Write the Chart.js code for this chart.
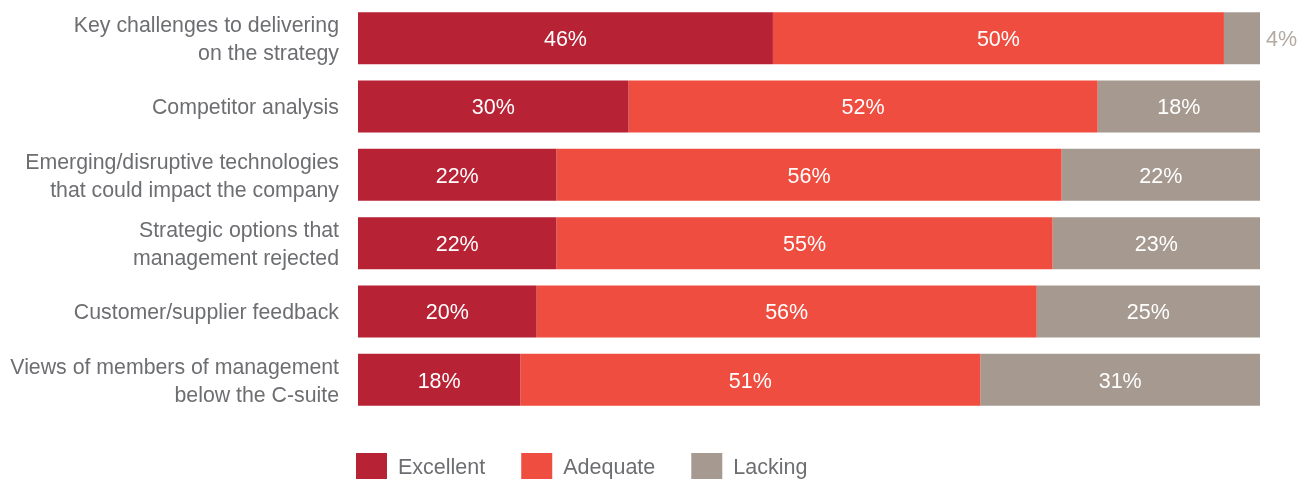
<!DOCTYPE html>
<html>
<head>
<meta charset="utf-8">
<script src="https://cdn.jsdelivr.net/npm/chart.js@4"></script>
<style>
html,body{margin:0;padding:0;background:#fff;overflow:hidden;}
#wrap{width:1300px;height:479px;position:relative;}
</style>
</head>
<body>
<div id="wrap"><canvas id="c" width="1300" height="479"></canvas></div>
<script>
const categories = [
  ["Key challenges to delivering", "on the strategy"],
  "Competitor analysis",
  ["Emerging/disruptive technologies", "that could impact the company"],
  ["Strategic options that", "management rejected"],
  "Customer/supplier feedback",
  ["Views of members of management", "below the C-suite"]
];
const seriesNames = ["Excellent", "Adequate", "Lacking"];
const excellent = [46, 30, 22, 22, 20, 18];
const adequate  = [50, 52, 56, 55, 56, 51];
const lacking   = [4, 18, 22, 23, 25, 31];
const colors = ["#b72235", "#ef4d3f", "#a69a90"];

const FONT = "'Liberation Sans', Arial, Helvetica, sans-serif";

// 100% stacked: each row is shown as a share of its own total
const rowTotals = excellent.map((v, i) => v + adequate[i] + lacking[i]);
const share = arr => arr.map((v, i) => v / rowTotals[i] * 100);
const rawSeries = [excellent, adequate, lacking];

const dataLabels = {
  id: 'dataLabels',
  afterDatasetsDraw(chart) {
    const ctx = chart.ctx;
    ctx.save();
    ctx.font = "21.5px " + FONT;
    ctx.textBaseline = 'middle';
    chart.data.datasets.forEach((ds, di) => {
      const meta = chart.getDatasetMeta(di);
      meta.data.forEach((bar, i) => {
        const v = rawSeries[di][i];
        const w = Math.abs(bar.x - bar.base);
        const txt = v + '%';
        if (w < 45) {
          ctx.fillStyle = '#b3aaa2';
          ctx.textAlign = 'left';
          ctx.fillText(txt, chart.chartArea.right + 6, bar.y + 2);
        } else {
          ctx.fillStyle = '#ffffff';
          ctx.textAlign = 'center';
          ctx.fillText(txt, (bar.x + bar.base) / 2, bar.y + 2);
        }
      });
    });
    ctx.restore();
  }
};

const catLabels = {
  id: 'catLabels',
  afterDraw(chart) {
    const ctx = chart.ctx;
    const ys = chart.scales.y;
    ctx.save();
    ctx.font = "21.3px " + FONT;
    ctx.fillStyle = '#6d6e71';
    ctx.textAlign = 'right';
    ctx.textBaseline = 'middle';
    const lineH = 28;
    chart.data.labels.forEach((lab, i) => {
      const lines = Array.isArray(lab) ? lab : [lab];
      const yc = ys.getPixelForTick(i);
      const y0 = yc - (lines.length - 1) * lineH / 2 + 2;
      lines.forEach((ln, k) => ctx.fillText(ln, 339, y0 + k * lineH));
    });
    ctx.restore();
  }
};

const customLegend = {
  id: 'customLegend',
  afterDraw(chart) {
    const ctx = chart.ctx;
    ctx.save();
    ctx.font = "21.5px " + FONT;
    ctx.textBaseline = 'middle';
    ctx.textAlign = 'left';
    let x = 356;
    const y = 453;
    chart.data.datasets.forEach((ds) => {
      ctx.fillStyle = ds.backgroundColor;
      ctx.fillRect(x, y, 31, 27);
      ctx.fillStyle = '#6d6e71';
      ctx.fillText(ds.label, x + 42, y + 15);
      const tw = ctx.measureText(ds.label).width;
      x = x + 42 + tw + 36;
    });
    ctx.restore();
  }
};

new Chart(document.getElementById('c'), {
  type: 'bar',
  data: {
    labels: categories,
    datasets: [
      { label: seriesNames[0], data: share(excellent), backgroundColor: colors[0] },
      { label: seriesNames[1], data: share(adequate), backgroundColor: colors[1] },
      { label: seriesNames[2], data: share(lacking), backgroundColor: colors[2] }
    ]
  },
  options: {
    indexAxis: 'y',
    responsive: false,
    animation: false,
    events: [],
    layout: { padding: { top: 4, right: 40, bottom: 65, left: 0 } },
    datasets: { bar: { barPercentage: 0.76, categoryPercentage: 1, borderWidth: 0 } },
    plugins: {
      legend: { display: false },
      tooltip: { enabled: false }
    },
    scales: {
      x: { stacked: true, min: 0, max: 100, display: false },
      y: {
        stacked: true,
        grid: { display: false, drawTicks: false },
        border: { display: false },
        ticks: { display: false },
        afterFit(scale) {
          scale.width = 358;
          scale.paddingTop = 0;
          scale.paddingBottom = 0;
        }
      }
    }
  },
  plugins: [dataLabels, catLabels, customLegend]
});
</script>
</body>
</html>
